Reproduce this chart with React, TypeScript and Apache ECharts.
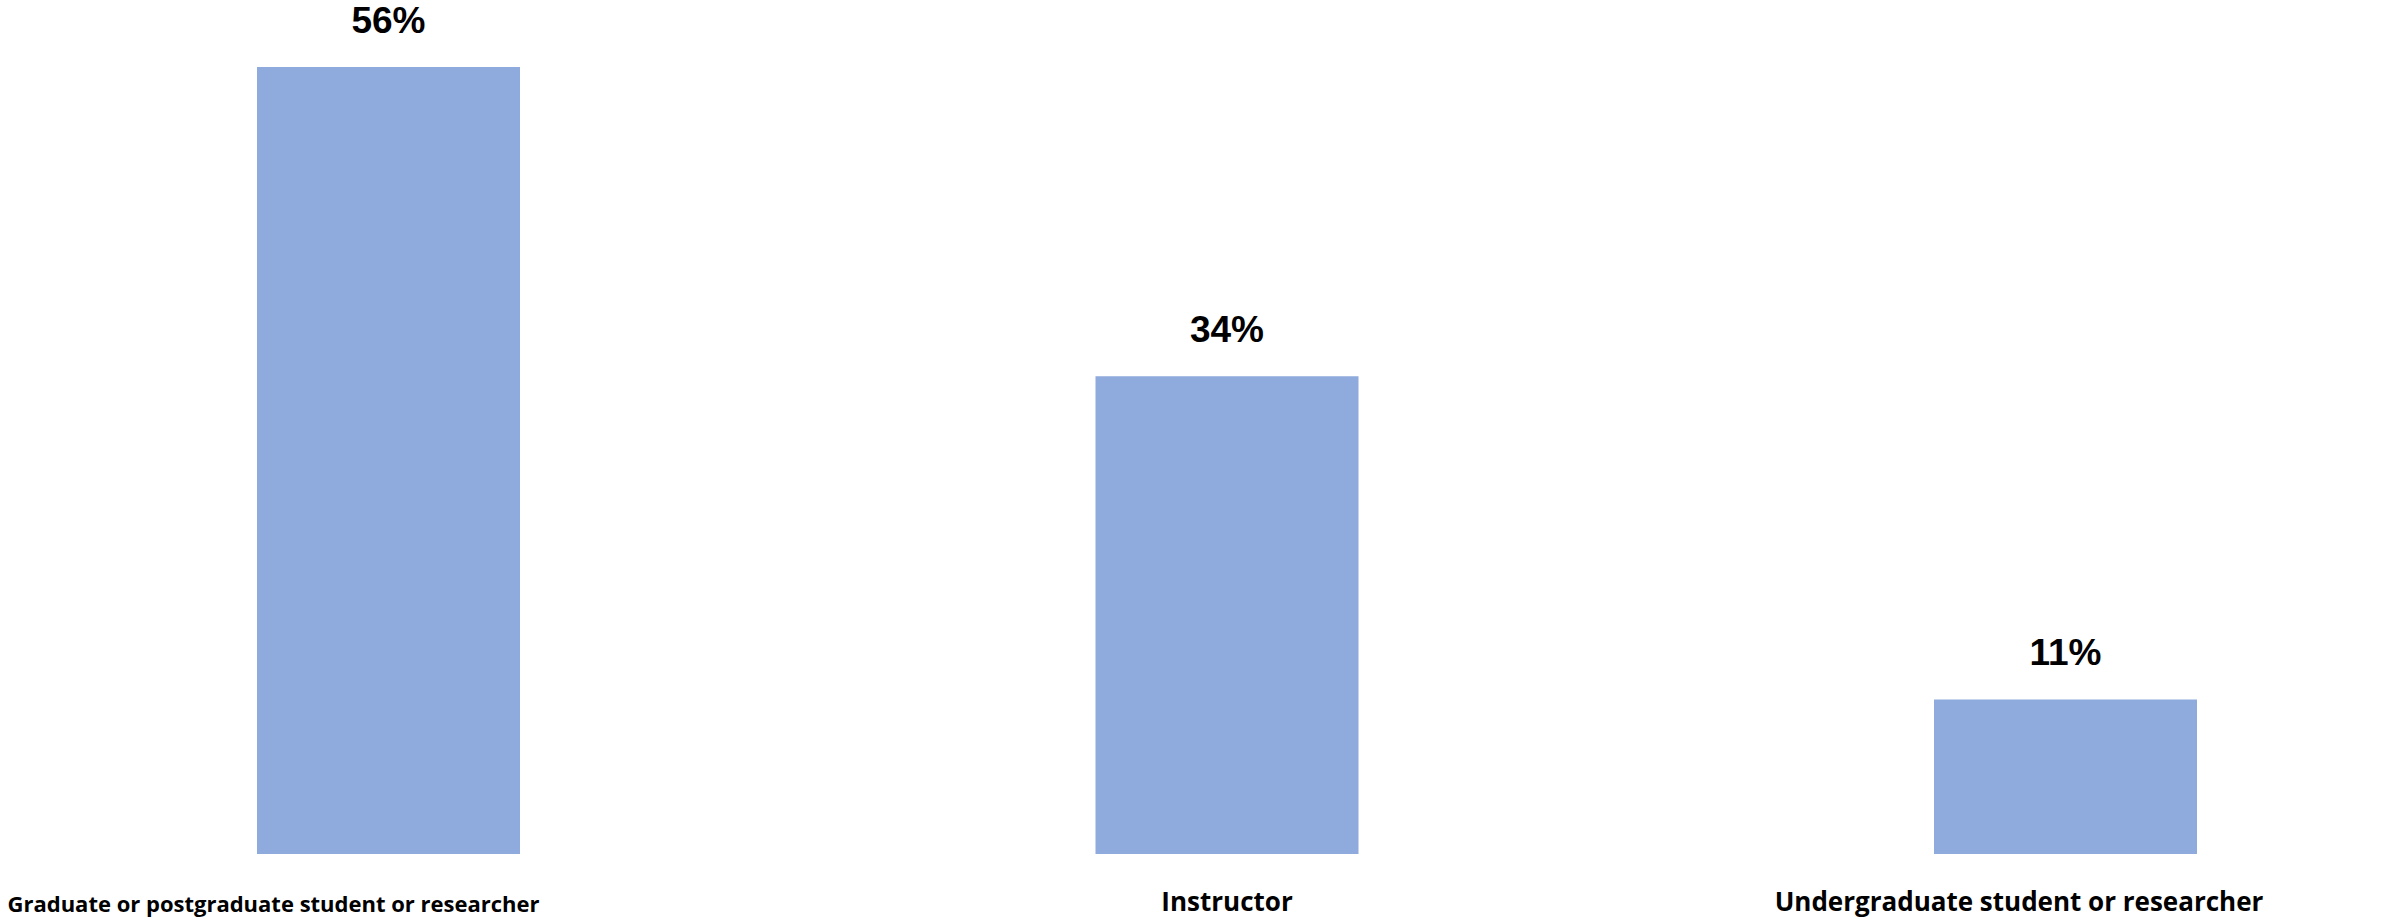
import React, { useEffect, useRef } from "react";
import * as echarts from "echarts";

const categories = [
  "Graduate or postgraduate student or researcher",
  "Instructor",
  "Undergraduate student or researcher",
];
const values = [56, 34, 11];
const labelShift = [230, 0, 93];
const labelSizes = [22, 26, 26];

export default function App() {
  const ref = useRef<HTMLDivElement>(null);
  useEffect(() => {
    document.body.style.margin = "0";
    const chart = echarts.init(ref.current!, null, { renderer: "svg" });
    const richStyle = (i: number) => ({
      padding: [26 - labelSizes[i], labelShift[i], 0, 0],
      fontFamily: "Open Sans",
      fontWeight: "bold",
      fontSize: labelSizes[i],
      color: "#000",
    });
    chart.setOption({
      animation: false,
      backgroundColor: "#ffffff",
      grid: {
        left: -30.75,
        right: -102.75,
        top: 0,
        bottom: 67,
        containLabel: false,
        outerBoundsMode: "none",
      },
      xAxis: {
        type: "category",
        data: categories,
        axisLine: { show: false },
        axisTick: { show: false },
        axisLabel: {
          interval: 0,
          margin: 34,
          color: "#000000",
          fontFamily: "Open Sans",
          fontWeight: "bold",
          fontSize: 26,
          hideOverlap: false,
          formatter: (v: string) => {
            const i = categories.indexOf(v);
            return "{s" + i + "|" + v + "}";
          },
          rich: { s0: richStyle(0), s1: richStyle(1), s2: richStyle(2) },
        },
      },
      yAxis: {
        type: "value",
        min: 0,
        max: 60.77,
        show: false,
        splitLine: { show: false },
      },
      series: [
        {
          type: "bar",
          data: values,
          barWidth: 263,
          itemStyle: { color: "#8FAADC" },
          label: {
            show: true,
            position: "top",
            distance: 28,
            formatter: "{c}%",
            color: "#000000",
            fontFamily: "Liberation Sans",
            fontWeight: "bold",
            fontSize: 37,
          },
        },
      ],
    });
    return () => chart.dispose();
  }, []);
  return <div ref={ref} style={{ width: 2382, height: 921 }} />;
}
